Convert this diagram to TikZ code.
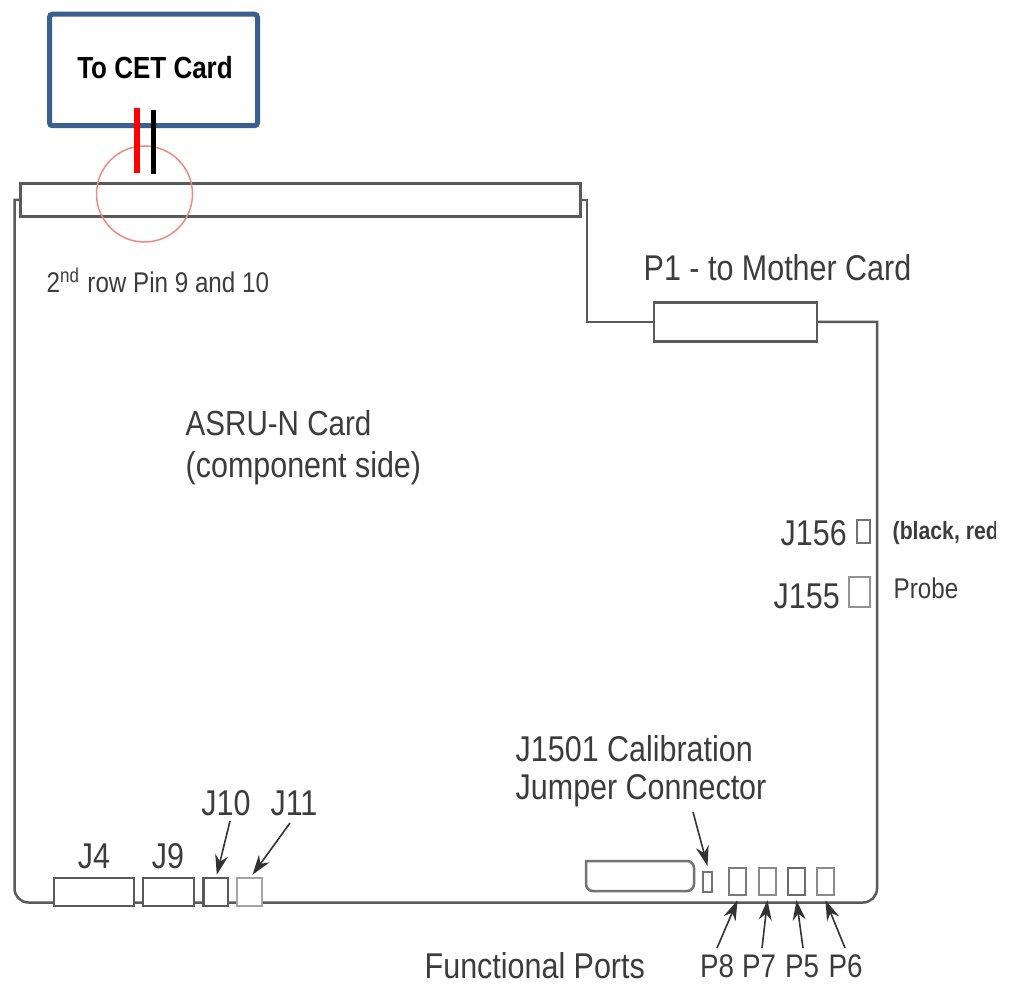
\documentclass[tikz,border=0pt]{standalone}
\usepackage{fontspec}
\setmainfont[FakeStretch=0.85]{Liberation Sans}
\usetikzlibrary{arrows.meta}
\definecolor{cetblue}{HTML}{3A6090}
\definecolor{cardgrey}{HTML}{5A5A5A}
\definecolor{textgrey}{HTML}{3C3C3C}
\definecolor{ringred}{HTML}{F08A80}
\tikzset{
  biglabel/.style={text=textgrey,inner sep=0pt,font=\fontsize{10.2}{12}\selectfont},
  portlabel/.style={text=textgrey,inner sep=0pt,font=\fontsize{9.3}{12}\selectfont},
  smalllabel/.style={text=textgrey,inner sep=0pt,font=\fontsize{8.1}{10}\selectfont},
  cardline/.style={draw=cardgrey,line width=0.025cm},
  connbox/.style={cardline,fill=white,inner sep=0pt},
  ringmark/.style={draw=ringred,circle,line width=0.015cm,minimum size=0.96cm,inner sep=0pt},
  pointer/.style={draw=black!80,line width=0.016cm,-{Stealth[length=0.2cm,width=0.13cm]}}
}
\begin{document}
\begin{tikzpicture}
  \useasboundingbox (0,0) rectangle (10.11,9.84);

  % Marking rim points
  \coordinate (cornertl) at (0.145,7.84);
  \coordinate (cornerbl) at (0.145,0.815);
  \coordinate (cornerbr) at (8.77,0.815);
  \coordinate (rimstart) at (8.77,6.62);
  \coordinate (p1stub) at (5.87,7.84);

  % Drawing connector boxes on the rim
  \node [connbox,minimum width=1.63cm,minimum height=0.39cm] (p1conn) at (7.353,6.62) {};
  \node [minimum width=5.59cm,minimum height=0.32cm,inner sep=0pt] (edgeconn) at (3.005,7.84) {};

  % Drawing card outline
  \draw [cardline] (edgeconn.west) -- (cornertl) -- (0.145,1.5) [rounded corners=0.14cm] -- (cornerbl) -- (cornerbr) -- (8.77,1.5) [sharp corners] -- (rimstart) -- (p1conn.east);
  \draw [cardline] (edgeconn.east) -- (p1stub) |- (p1conn.west);
  \draw [cardline] (edgeconn.south west) rectangle (edgeconn.north east);

  % Drawing ring
  \node [ringmark] (pinring) at (1.445,7.90) {};

  % Drawing CET card
  \node [draw=cetblue,line width=0.05cm,rounded corners=0.03cm,minimum width=2.08cm,minimum height=1.115cm,
         font=\bfseries\fontsize{8.7}{10}\selectfont] (cetcard) at (1.535,9.14) {\hspace{0.03cm}\raisebox{0.05cm}{To CET Card}};

  % Drawing wires
  \coordinate (redtop) at (1.365,8.76);
  \coordinate (redend) at (1.365,8.11);
  \coordinate (blacktop) at (1.53,8.74);
  \coordinate (blackend) at (1.53,8.10);
  \draw [red,line width=0.06cm] (redtop) -- (redend);
  \draw [black,line width=0.05cm] (blacktop) -- (blackend);

  % Drawing bottom connectors
  \node [connbox,minimum width=0.80cm,minimum height=0.28cm] (jfour) at (0.94,0.92) {};
  \node [connbox,minimum width=0.51cm,minimum height=0.28cm] (jnine) at (1.685,0.92) {};
  \node [connbox,minimum width=0.245cm,minimum height=0.28cm] (jten) at (2.158,0.92) {};
  \node [connbox,draw=cardgrey!55,minimum width=0.25cm,minimum height=0.28cm] (jeleven) at (2.495,0.92) {};

  % Drawing ports
  \draw [cardline,draw=cardgrey!85,rounded corners=0.07cm] (5.86,1.23) -- (5.86,0.93) -- (6.94,0.93) -- (6.94,1.23) [sharp corners] -- cycle;
  \node [cardline,inner sep=0pt,draw=cardgrey!85,line width=0.02cm,minimum width=0.09cm,minimum height=0.20cm] (jcal) at (7.075,1.02) {};
  \node [connbox,draw=cardgrey!80,minimum width=0.17cm,minimum height=0.27cm] (pe) at (7.375,1.025) {};
  \node [connbox,draw=cardgrey!70,minimum width=0.17cm,minimum height=0.27cm] (ps) at (7.675,1.025) {};
  \node [connbox,draw=cardgrey!90,minimum width=0.17cm,minimum height=0.27cm] (pv) at (7.965,1.025) {};
  \node [connbox,draw=cardgrey!70,minimum width=0.17cm,minimum height=0.27cm] (px) at (8.255,1.025) {};

  % Drawing J156 and J155
  \node [connbox,draw=cardgrey!85,minimum width=0.13cm,minimum height=0.23cm] (jprobea) at (8.635,4.525) {};
  \node [connbox,draw=cardgrey!65,minimum width=0.21cm,minimum height=0.30cm] (jprobeb) at (8.595,3.92) {};

  % Marking labels
  \node [biglabel,anchor=west] (ptitle) at (6.43,7.16) {P1 - to Mother Card};
  \node [biglabel,anchor=west,font=\fontsize{9.9}{12}\selectfont] (cardname) at (1.85,5.61) {ASRU-N Card};
  \node [biglabel,anchor=west] (cardside) at (1.85,5.16) {(component side)};
  \node [smalllabel,anchor=west] (pinnote) at (0.46,7.04) {2\textsuperscript{nd} row Pin 9 and 10};
  \node [biglabel,anchor=west] (jprobealabel) at (7.80,4.51) {J156};
  \node [biglabel,anchor=west] (jprobeblabel) at (7.73,3.88) {J155};
  \begin{scope}
    \clip (8.80,4.00) rectangle (9.95,4.80);
    \node [smalllabel,anchor=west,font=\bfseries\fontsize{7.1}{10}\selectfont] (blackred) at (8.92,4.51) {(black, red)};
  \end{scope}
  \node [smalllabel,anchor=west] (probe) at (8.93,3.96) {Probe};
  \node [biglabel,anchor=west] (calone) at (5.15,2.35) {J1501 Calibration};
  \node [biglabel,anchor=west] (caltwo) at (5.15,1.93) {Jumper Connector};
  \node [biglabel] (jfourlabel) at (0.94,1.28) {J4};
  \node [biglabel] (jninelabel) at (1.68,1.28) {J9};
  \node [biglabel] (jtenlabel) at (2.26,1.81) {J10};
  \node [biglabel] (jelevenlabel) at (2.94,1.81) {J11};
  \node [biglabel,anchor=west] (ports) at (4.24,0.18) {Functional Ports};
  \node [portlabel] (pelabel) at (7.17,0.18) {P8};
  \node [portlabel] (pslabel) at (7.59,0.18) {P7};
  \node [portlabel] (pvlabel) at (8.02,0.18) {P5};
  \node [portlabel] (pxlabel) at (8.455,0.18) {P6};

  % Drawing arrows
  \coordinate (caltail) at (6.93,1.72);
  \coordinate (jtentail) at (2.30,1.63);
  \coordinate (jeleventail) at (2.90,1.61);
  \coordinate (petail) at (7.17,0.36);
  \coordinate (pstail) at (7.62,0.36);
  \coordinate (pvtail) at (8.03,0.36);
  \coordinate (pxtail) at (8.45,0.36);
  \draw [pointer] (caltail) -- ([yshift=0.05cm]jcal.north);
  \draw [pointer] (jtentail) -- ([xshift=0.01cm,yshift=0.02cm]jten.north);
  \draw [pointer] (jeleventail) -- ([xshift=0.03cm,yshift=0.02cm]jeleven.north);
  \draw [pointer] (petail) -- ([yshift=-0.04cm]pe.south);
  \draw [pointer] (pstail) -- ([yshift=-0.04cm]ps.south);
  \draw [pointer] (pvtail) -- ([yshift=-0.04cm]pv.south);
  \draw [pointer] (pxtail) -- ([yshift=-0.04cm]px.south);
\end{tikzpicture}
\end{document}
